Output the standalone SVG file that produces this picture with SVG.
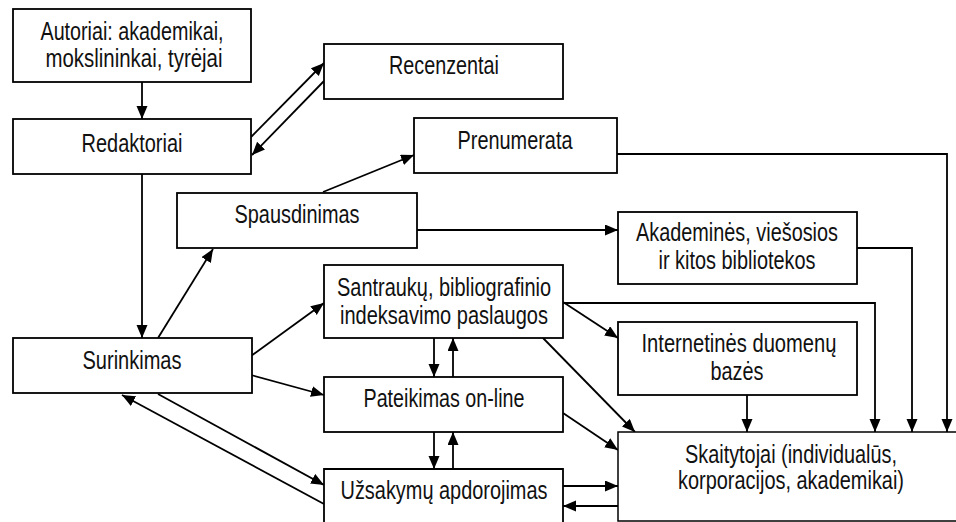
<svg xmlns="http://www.w3.org/2000/svg" width="956" height="522" viewBox="0 0 956 522">
<defs>
<marker id="ah" markerUnits="userSpaceOnUse" markerWidth="14" markerHeight="12" refX="13" refY="5.5" orient="auto">
<path d="M0,0 L13,5.5 L0,11 z" fill="#000"/>
</marker>
<style>
rect,.box{fill:#fff;stroke:#000;stroke-width:1.8}
text{font-family:"Liberation Sans Narrow","Liberation Sans",Arial,sans-serif;font-size:25px;fill:#111;text-anchor:middle}
#connectors line,#connectors polyline{stroke:#000;stroke-width:1.8;fill:none;marker-end:url(#ah)}
</style>
</defs>
<rect x="0" y="0" width="956" height="522" style="stroke:none;fill:#fff"/>
<g id="connectors">
<line x1="142" y1="82" x2="142" y2="119"/>
<line x1="251" y1="137" x2="324" y2="63"/>
<line x1="324" y1="81" x2="252" y2="155"/>
<line x1="142" y1="174" x2="142" y2="338"/>
<line x1="158" y1="338" x2="213" y2="249"/>
<line x1="323" y1="192" x2="414" y2="155"/>
<line x1="417" y1="230" x2="618" y2="230"/>
<polyline points="617,154 947,154 947,432"/>
<polyline points="857,248 912,248 912,432"/>
<polyline points="563,303 875,303 875,432"/>
<line x1="251" y1="356" x2="324" y2="303"/>
<line x1="251" y1="375" x2="324" y2="395"/>
<line x1="158" y1="394" x2="324" y2="485"/>
<line x1="324" y1="504" x2="122" y2="395"/>
<line x1="434" y1="338" x2="434" y2="377"/>
<line x1="453" y1="377" x2="453" y2="338"/>
<line x1="434" y1="432" x2="434" y2="469"/>
<line x1="453" y1="469" x2="453" y2="432"/>
<line x1="563" y1="302" x2="618" y2="338"/>
<line x1="543" y1="338" x2="635" y2="432"/>
<line x1="563" y1="413" x2="618" y2="450"/>
<line x1="563" y1="486" x2="618" y2="486"/>
<line x1="618" y1="506" x2="563" y2="506"/>
<line x1="747" y1="395" x2="747" y2="432"/>
</g>
<g id="autoriai">
<rect x="13" y="9" width="238" height="73"/>
<text x="132" y="40" textLength="183" lengthAdjust="spacingAndGlyphs">Autoriai: akademikai,</text>
<text x="134" y="67" textLength="177" lengthAdjust="spacingAndGlyphs">mokslininkai, tyrėjai</text>
</g>
<g id="redaktoriai">
<rect x="13" y="119" width="238" height="55"/>
<text x="132" y="152" textLength="101" lengthAdjust="spacingAndGlyphs">Redaktoriai</text>
</g>
<g id="recenzentai">
<rect x="324" y="44" width="239" height="55"/>
<text x="444" y="74" textLength="110" lengthAdjust="spacingAndGlyphs">Recenzentai</text>
</g>
<g id="prenumerata">
<rect x="414" y="118" width="203" height="55"/>
<text x="515" y="149" textLength="115" lengthAdjust="spacingAndGlyphs">Prenumerata</text>
</g>
<g id="spausdinimas">
<rect x="177" y="193" width="240" height="55"/>
<text x="297" y="223" textLength="125" lengthAdjust="spacingAndGlyphs">Spausdinimas</text>
</g>
<g id="bibliotekos">
<rect x="618" y="212" width="239" height="72"/>
<text x="737" y="241" textLength="202" lengthAdjust="spacingAndGlyphs">Akademinės, viešosios</text>
<text x="737" y="269" textLength="157" lengthAdjust="spacingAndGlyphs">ir kitos bibliotekos</text>
</g>
<g id="santrauku">
<rect x="324" y="265" width="239" height="73"/>
<text x="444" y="296" textLength="214" lengthAdjust="spacingAndGlyphs">Santraukų, bibliografinio</text>
<text x="444" y="324" textLength="208" lengthAdjust="spacingAndGlyphs">indeksavimo paslaugos</text>
</g>
<g id="surinkimas">
<rect x="13" y="338" width="239" height="55"/>
<text x="132" y="369" textLength="99" lengthAdjust="spacingAndGlyphs">Surinkimas</text>
</g>
<g id="internetines">
<rect x="618" y="322" width="239" height="73"/>
<text x="739" y="352" textLength="195" lengthAdjust="spacingAndGlyphs">Internetinės duomenų</text>
<text x="737" y="380" textLength="53" lengthAdjust="spacingAndGlyphs">bazės</text>
</g>
<g id="pateikimas">
<rect x="324" y="377" width="239" height="55"/>
<text x="444" y="407" textLength="161" lengthAdjust="spacingAndGlyphs">Pateikimas on-line</text>
</g>
<g id="uzsakymu">
<path class="box" d="M324,522 V469 H563 V522"/>
<text x="444" y="499" textLength="207" lengthAdjust="spacingAndGlyphs">Užsakymų apdorojimas</text>
</g>
<g id="skaitytojai">
<path class="box" d="M956,432 H618 V521 H956" style="stroke-width:1.5"/>
<text x="791" y="463" textLength="212" lengthAdjust="spacingAndGlyphs">Skaitytojai (individualūs,</text>
<text x="791" y="489" textLength="226" lengthAdjust="spacingAndGlyphs">korporacijos, akademikai)</text>
</g>
</svg>
